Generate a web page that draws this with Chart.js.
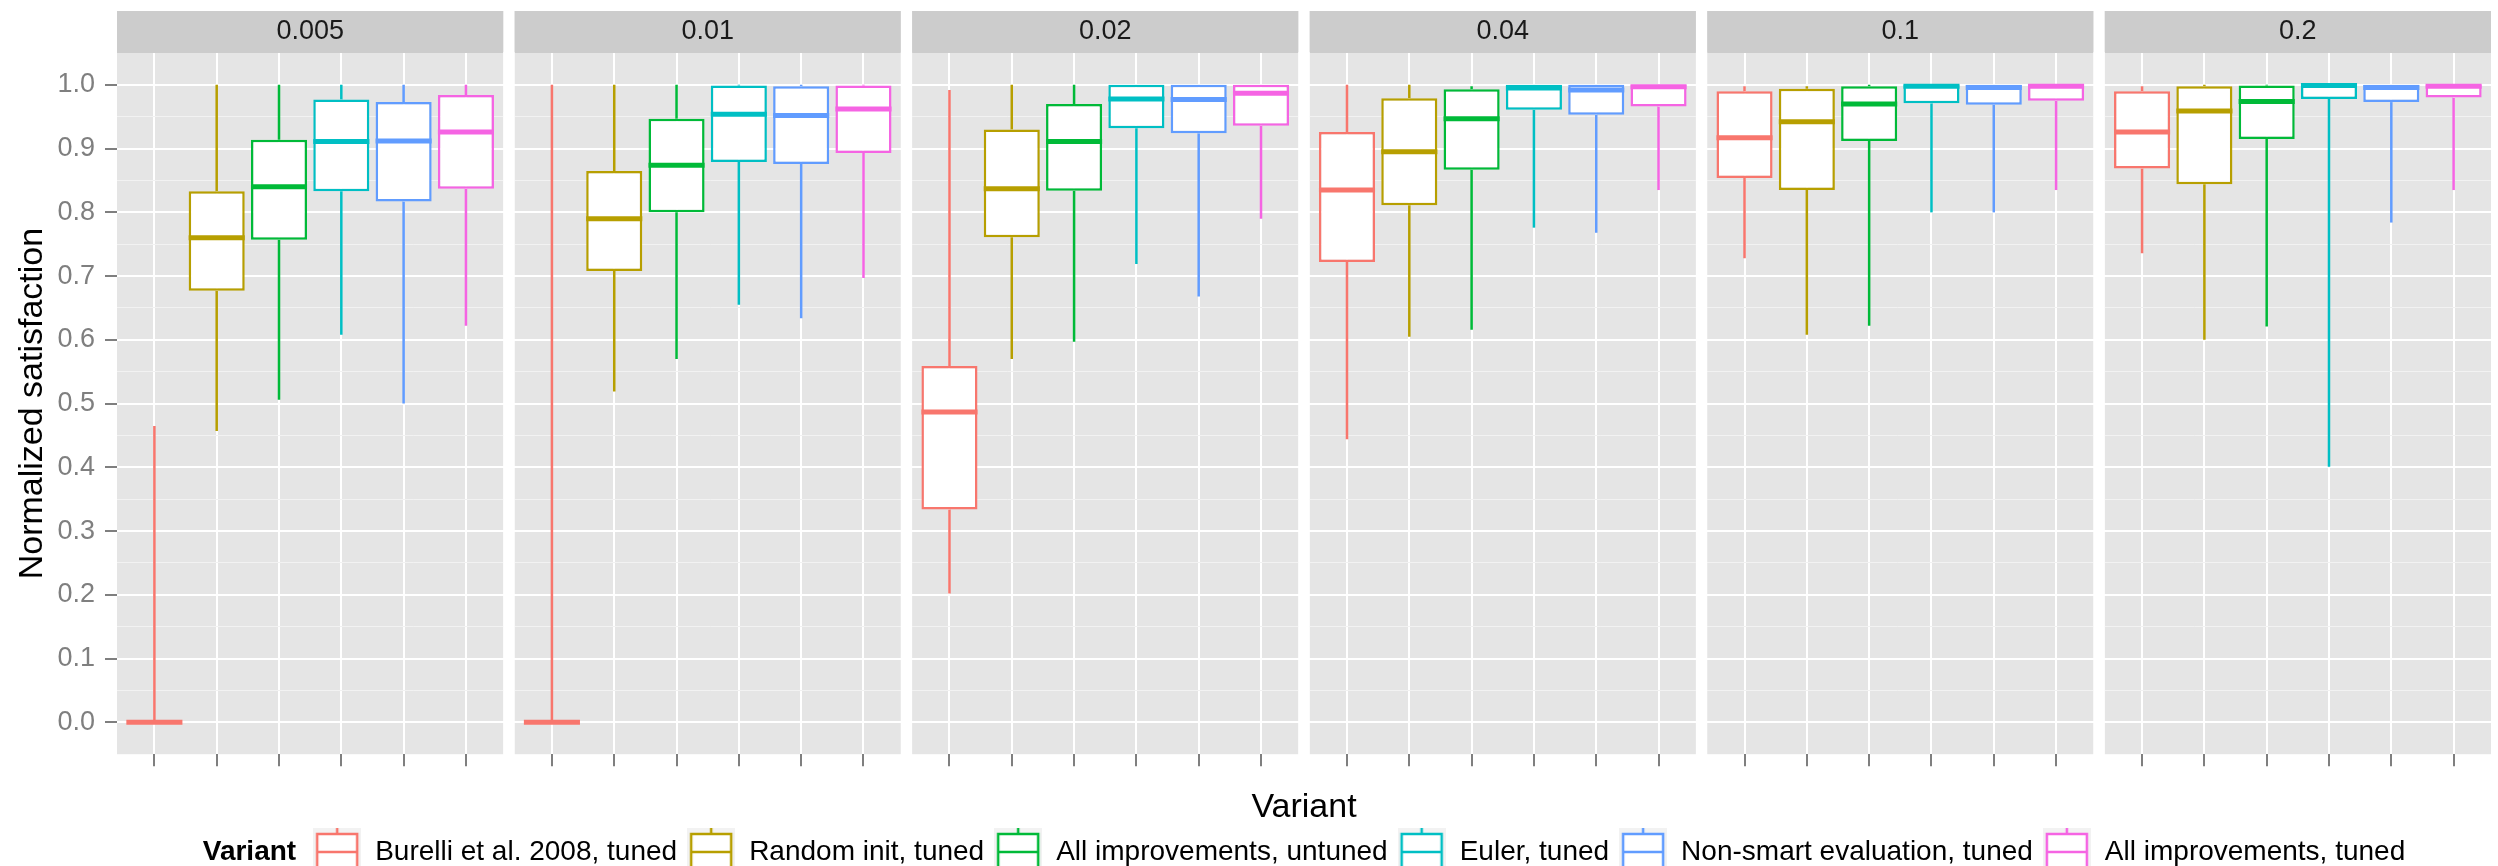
<!DOCTYPE html>
<html>
<head>
<meta charset="utf-8">
<script src="https://cdn.jsdelivr.net/npm/chart.js@4.4.1/dist/chart.umd.min.js"></script>
<style>
  html, body { margin: 0; padding: 0; background: #ffffff; }
  canvas { display: block; }
</style>
</head>
<body>
<canvas id="chart" width="2498" height="866"></canvas>
<script>
const panels = ['0.005', '0.01', '0.02', '0.04', '0.1', '0.2'];
const variants = [
  'Burelli et al. 2008, tuned',
  'Random init, tuned',
  'All improvements, untuned',
  'Euler, tuned',
  'Non-smart evaluation, tuned',
  'All improvements, tuned'
];
const colors = ['#F8766D', '#B79F00', '#00BA38', '#00BFC4', '#619CFF', '#F564E3'];

// one row per variant, one value per panel
const whiskerLow = [
  [0, 0, 0.202, 0.444, 0.728, 0.736],
  [0.457, 0.519, 0.570, 0.605, 0.608, 0.600],
  [0.506, 0.570, 0.597, 0.616, 0.622, 0.621],
  [0.608, 0.655, 0.719, 0.776, 0.800, 0.401],
  [0.500, 0.634, 0.668, 0.768, 0.800, 0.784],
  [0.622, 0.697, 0.790, 0.835, 0.835, 0.835]
];
const quart1 = [
  [0, 0, 0.334, 0.722, 0.854, 0.869],
  [0.677, 0.708, 0.761, 0.811, 0.835, 0.844],
  [0.757, 0.800, 0.834, 0.867, 0.912, 0.915],
  [0.833, 0.879, 0.932, 0.961, 0.971, 0.978],
  [0.817, 0.876, 0.924, 0.953, 0.969, 0.973],
  [0.837, 0.893, 0.936, 0.966, 0.975, 0.980]
];
const medians = [
  [0, 0, 0.487, 0.835, 0.917, 0.926],
  [0.760, 0.790, 0.837, 0.895, 0.942, 0.959],
  [0.840, 0.874, 0.911, 0.947, 0.970, 0.974],
  [0.911, 0.954, 0.978, 0.995, 0.998, 0.999],
  [0.912, 0.952, 0.977, 0.992, 0.996, 0.996],
  [0.926, 0.962, 0.987, 0.997, 0.998, 0.998]
];
const quart3 = [
  [0, 0, 0.559, 0.926, 0.990, 0.990],
  [0.833, 0.865, 0.930, 0.979, 0.994, 0.998],
  [0.914, 0.947, 0.970, 0.993, 0.998, 0.999],
  [0.977, 0.999, 1.0, 1.0, 1.0, 1.0],
  [0.973, 0.998, 1.0, 1.0, 1.0, 1.0],
  [0.984, 0.999, 1.0, 1.0, 1.0, 1.0]
];
const whiskerHigh = [
  [0.465, 1.0, 0.992, 1.0, 0.998, 0.998],
  [1.0, 1.0, 1.0, 1.0, 0.998, 1.0],
  [1.0, 1.0, 1.0, 0.998, 1.0, 1.0],
  [1.0, 1.0, 1.0, 1.0, 1.0, 1.0],
  [1.0, 1.0, 1.0, 1.0, 1.0, 1.0],
  [1.0, 1.0, 1.0, 1.0, 1.0, 1.0]
];
const yMajor = [0, 0.1, 0.2, 0.3, 0.4, 0.5, 0.6, 0.7, 0.8, 0.9, 1.0];
const yMinor = [0.05, 0.15, 0.25, 0.35, 0.45, 0.55, 0.65, 0.75, 0.85, 0.95];

// facet layout on one linear x axis: each panel holds 6 slots, small gutter between panels
const STEP = 6.38;
const xPos = (p, v) => p * STEP + v + 1;
const panelLeft = p => p * STEP + 0.4;
const panelRight = p => p * STEP + 6.6;
const slotPositions = [];
panels.forEach((_, p) => variants.forEach((_, v) => slotPositions.push(xPos(p, v))));

const FONT = "'Liberation Sans', Arial, Helvetica, sans-serif";
Chart.defaults.font.family = FONT;

const isMajor = v => yMajor.some(m => Math.abs(m - v) < 1e-6);

// small boxplot glyphs for the legend keys
const keyImages = colors.map(c => {
  const k = document.createElement('canvas');
  k.width = 48;
  k.height = 56;
  const g = k.getContext('2d');
  g.fillStyle = '#f2f2f2';
  g.fillRect(0, 0, 48, 56);
  g.strokeStyle = c;
  g.lineWidth = 2.5;
  g.fillStyle = '#ffffff';
  g.fillRect(4, 10, 40, 36);
  g.strokeRect(4, 10, 40, 36);
  g.beginPath();
  g.moveTo(4, 28); g.lineTo(44, 28);
  g.moveTo(24, 0); g.lineTo(24, 10);
  g.moveTo(24, 46); g.lineTo(24, 56);
  g.stroke();
  return k;
});

const panelPlugin = {
  id: 'panels',
  beforeDraw(chart) {
    const {ctx, chartArea: a, scales: {x}} = chart;
    ctx.save();
    panels.forEach((label, p) => {
      const l = x.getPixelForValue(panelLeft(p));
      const r = x.getPixelForValue(panelRight(p));
      ctx.fillStyle = '#e5e5e5';
      ctx.fillRect(l, a.top, r - l, a.bottom - a.top);
      ctx.fillStyle = '#cccccc';
      ctx.fillRect(l, a.top - 42, r - l, 42);
      ctx.fillStyle = '#1a1a1a';
      ctx.font = '27px ' + FONT;
      ctx.textAlign = 'center';
      ctx.textBaseline = 'middle';
      ctx.fillText(label, (l + r) / 2, a.top - 21);
    });
    ctx.restore();
  },
  beforeDatasetsDraw(chart) {
    // clear the grid lines that ran through the gutters
    const {ctx, chartArea: a, scales: {x}} = chart;
    ctx.save();
    ctx.fillStyle = '#ffffff';
    for (let p = 0; p < panels.length - 1; p++) {
      const l = x.getPixelForValue(panelRight(p));
      const r = x.getPixelForValue(panelLeft(p + 1));
      ctx.fillRect(l, a.top - 1, r - l, a.bottom - a.top + 2);
    }
    ctx.restore();
  }
};

const boxPlugin = {
  id: 'whiskers',
  afterDatasetsDraw(chart) {
    const {ctx, scales: {y}} = chart;
    ctx.save();
    chart.data.datasets.forEach((ds, v) => {
      const meta = chart.getDatasetMeta(v);
      meta.data.forEach((bar, p) => {
        const half = bar.width / 2;
        ctx.strokeStyle = colors[v];
        ctx.lineWidth = 2.5;
        ctx.beginPath();
        ctx.moveTo(bar.x, y.getPixelForValue(quart3[v][p]));
        ctx.lineTo(bar.x, y.getPixelForValue(whiskerHigh[v][p]));
        ctx.moveTo(bar.x, y.getPixelForValue(quart1[v][p]));
        ctx.lineTo(bar.x, y.getPixelForValue(whiskerLow[v][p]));
        ctx.stroke();
        const ym = y.getPixelForValue(medians[v][p]);
        ctx.lineWidth = 5;
        ctx.beginPath();
        ctx.moveTo(bar.x - half, ym);
        ctx.lineTo(bar.x + half, ym);
        ctx.stroke();
      });
    });
    ctx.restore();
  }
};

// legend title sits inline, left of the keys, whole row centred on the panels
const legendTitlePlugin = {
  id: 'legendTitle',
  afterLayout(chart) {
    const lg = chart.legend;
    const ctx = chart.ctx;
    ctx.save();
    ctx.font = 'bold 28px ' + FONT;
    const tw = ctx.measureText('Variant').width;
    ctx.restore();
    const pad = lg.options.labels.padding;
    const rowW = lg.lineWidths[0] - pad;
    const gap = 17;
    const total = tw + gap + rowW;
    const start = (chart.chartArea.left + chart.chartArea.right) / 2 - total / 2;
    lg.left = start + tw + gap - pad;
    lg.$titleX = start;
  },
  afterDraw(chart) {
    const lg = chart.legend;
    const ctx = chart.ctx;
    ctx.save();
    ctx.font = 'bold 28px ' + FONT;
    ctx.fillStyle = '#000000';
    ctx.textAlign = 'left';
    ctx.textBaseline = 'middle';
    ctx.fillText('Variant', lg.$titleX, lg.top + lg.options.labels.padding + 14);
    ctx.restore();
  }
};

new Chart(document.getElementById('chart'), {
  type: 'bar',
  data: {
    datasets: variants.map((name, v) => ({
      label: name,
      data: panels.map((_, p) => ({x: xPos(p, v), y: [quart1[v][p], quart3[v][p]]})),
      backgroundColor: '#ffffff',
      borderColor: colors[v],
      borderWidth: 2.5,
      borderSkipped: false,
      grouped: false,
      barPercentage: 0.9,
      categoryPercentage: 1.0
    }))
  },
  options: {
    responsive: false,
    animation: false,
    devicePixelRatio: 1,
    events: [],
    layout: {padding: {left: 0, right: 7, top: 53, bottom: -10}},
    scales: {
      x: {
        type: 'linear',
        min: panelLeft(0),
        max: panelRight(panels.length - 1),
        bounds: 'data',
        offset: false,
        afterBuildTicks: s => { s.ticks = slotPositions.map(v => ({value: v})); },
        ticks: {display: false},
        grid: {offset: false, color: '#ffffff', lineWidth: 2, tickColor: '#7f7f7f', tickLength: 12, tickWidth: 2},
        border: {display: false},
        title: {display: true, text: 'Variant', color: '#000000', font: {size: 34}, padding: {top: 21, bottom: 0}}
      },
      y: {
        min: -0.05,
        max: 1.05,
        afterBuildTicks: s => { s.ticks = yMajor.concat(yMinor).sort((a, b) => a - b).map(v => ({value: v})); },
        afterFit: s => { s.width = 117; },
        ticks: {
          color: '#7f7f7f',
          font: {size: 27},
          padding: 10,
          autoSkip: false,
          callback: v => isMajor(v) ? v.toFixed(1) : ''
        },
        grid: {
          color: c => isMajor(c.tick.value) ? '#ffffff' : '#f2f2f2',
          lineWidth: c => isMajor(c.tick.value) ? 2 : 1,
          tickColor: c => isMajor(c.tick.value) ? '#7f7f7f' : 'rgba(0,0,0,0)',
          tickLength: 12,
          tickWidth: 2
        },
        border: {display: false},
        title: {display: true, text: 'Normalized satisfaction', color: '#000000', font: {size: 34}, padding: {top: 12, bottom: 0}}
      }
    },
    plugins: {
      tooltip: {enabled: false},
      legend: {
        position: 'bottom',
        align: 'start',
        labels: {
          usePointStyle: true,
          pointStyleWidth: 48,
          padding: 10,
          color: '#000000',
          font: {size: 28},
          generateLabels: () => variants.map((t, v) => ({
            text: t,
            pointStyle: keyImages[v],
            fillStyle: colors[v],
            strokeStyle: colors[v],
            lineWidth: 0,
            hidden: false,
            datasetIndex: v
          }))
        }
      }
    }
  },
  plugins: [panelPlugin, boxPlugin, legendTitlePlugin]
});
</script>
</body>
</html>
